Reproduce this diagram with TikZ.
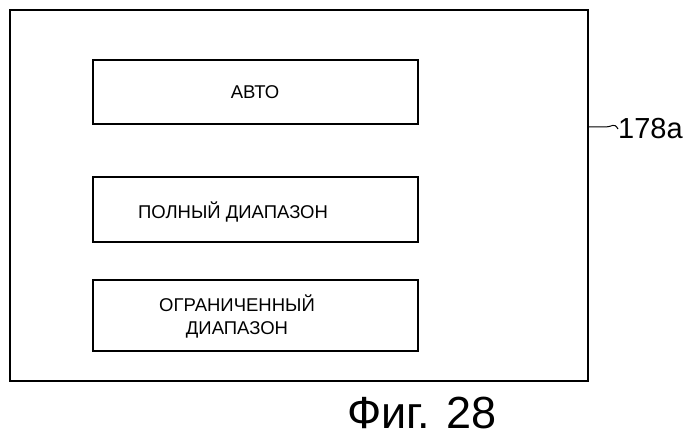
\documentclass[tikz,border=0pt]{standalone}
\usepackage{fontspec}
\setmainfont{Liberation Sans}
\begin{document}
\begin{tikzpicture}[x=1pt,y=-1pt,
  box/.style={draw,line width=1.8pt},
  lbl/.style={font=\fontsize{18.5}{23}\selectfont,align=center}]
\useasboundingbox (0,0) rectangle (699,443);
\draw[box] (10,10) rectangle (588,381);
\draw[box] (93,60) rectangle (418,124);
\draw[box] (93,177) rectangle (418,242);
\draw[box] (93,280) rectangle (418,351);
\node[lbl] (a) at (255,92) {АВТО};
\node[lbl] (b) at (233,212) {ПОЛНЫЙ ДИАПАЗОН};
\node[lbl] (c) at (237,316) {ОГРАНИЧЕННЫЙ\\ДИАПАЗОН};
\coordinate (o) at (589,127);
\node[font=\fontsize{29}{30}\selectfont,anchor=west,inner sep=0pt] (r) at (618,129) {178a};
\draw[line width=1pt] (o) -- (606,127) .. controls (612,127) and (614,122) .. (r.west);
\node[font=\fontsize{45}{46}\selectfont] (f) at (422,413) {Фиг. 28};
\end{tikzpicture}
\end{document}
